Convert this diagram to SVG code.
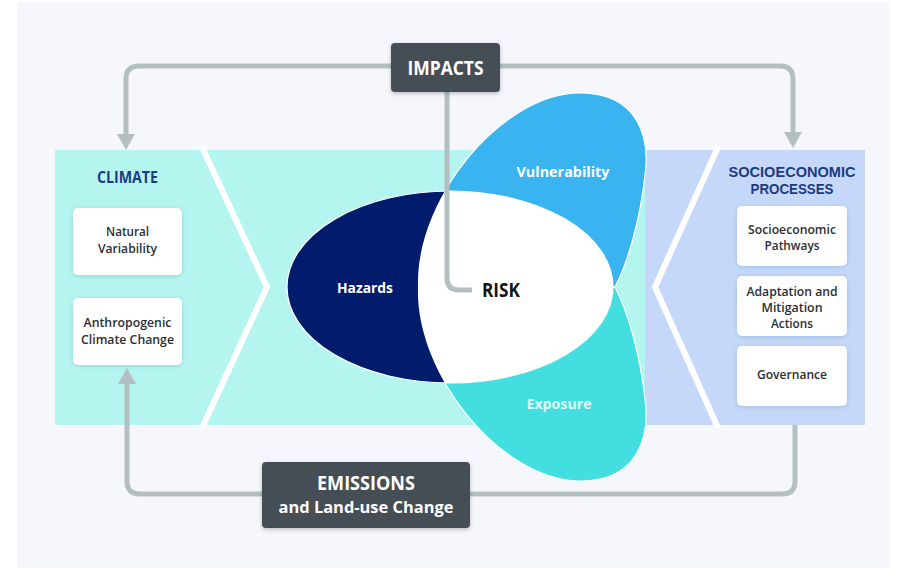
<svg xmlns="http://www.w3.org/2000/svg" width="897" height="570" viewBox="0 0 897 570">
  <defs>
    <style>
      .lbl { font-family: "Open Sans", "Noto Sans", "DejaVu Sans", sans-serif; text-anchor: middle; }
      .head { font-weight: 700; font-size: 16.5px; fill: #1b3a82; }
      .head2 { font-family: "Liberation Sans", Arial, sans-serif; font-weight: 700; font-size: 15.5px; fill: #1b3a82; }
      .box { fill: #ffffff; filter: url(#softShadow); }
      .boxtxt { font-weight: 600; font-size: 12.5px; fill: #2b2e31; }
      .dark { fill: #454d54; filter: url(#darkShadow); }
      .darktxt { font-weight: 700; fill: #ffffff; }
      .petaltxt { font-weight: 700; font-size: 15px; fill: #ffffff; }
      .conn { fill: none; stroke: #b3bfc1; stroke-width: 5; stroke-linejoin: round; }
      .chev { fill: none; stroke: #ffffff; stroke-width: 6; stroke-linejoin: miter; }
    </style>
    <filter id="softShadow" x="-20%" y="-20%" width="140%" height="150%">
      <feDropShadow dx="0" dy="1" stdDeviation="2.5" flood-color="#4f8fb3" flood-opacity="0.35"/>
    </filter>
    <filter id="darkShadow" x="-20%" y="-20%" width="140%" height="150%">
      <feDropShadow dx="0" dy="1.5" stdDeviation="2" flood-color="#000000" flood-opacity="0.25"/>
    </filter>
    <marker id="head" markerUnits="userSpaceOnUse" viewBox="0 0 16 18" markerWidth="16" markerHeight="18" refX="0" refY="9" orient="auto">
      <path d="M0,0 L16,9 L0,18 Z" fill="#b3bfc1"/>
    </marker>
    <!-- petal outlines, reused for the white overlap -->
    <path id="vulnPath" d="M418,287 C415,200 500,95 578,93 C640,92 650,140 645,175 C640,220 628,262 615,287 Z"/>
    <path id="expoPath" d="M418,287 C415,374 500,479 578,481 C640,482 650,434 645,399 C640,354 628,312 615,287 Z"/>
    <clipPath id="petalClip">
      <use href="#vulnPath"/>
      <use href="#expoPath"/>
    </clipPath>
  </defs>

  <!-- page -->
  <rect x="0" y="0" width="897" height="570" fill="#ffffff"/>
  <rect x="17" y="2" width="873" height="566" fill="#f6f7fc"/>

  <!-- bands -->
  <rect x="55" y="150" width="592" height="275" fill="#b5f5ef"/>
  <rect x="645" y="150" width="220" height="275" fill="#c6d8f9"/>
  <polyline class="chev" points="202,147 267,287 202,428"/>
  <polyline class="chev" points="718,147 655,287 718,428"/>

  <!-- risk petals -->
  <g id="vulnerability">
    <use href="#vulnPath" fill="#39b4f0" stroke="#ffffff" stroke-width="1.2"/>
    <text class="lbl petaltxt" x="563" y="177" textLength="93" lengthAdjust="spacingAndGlyphs">Vulnerability</text>
  </g>
  <g id="exposure">
    <use href="#expoPath" fill="#43dfe0" stroke="#ffffff" stroke-width="1.2"/>
    <text class="lbl petaltxt" x="559" y="409" textLength="65" lengthAdjust="spacingAndGlyphs" style="fill-opacity:0.85">Exposure</text>
  </g>
  <g id="hazards">
    <ellipse cx="450" cy="287" rx="163" ry="96" fill="#011c6c" stroke="#ffffff" stroke-width="1.2"/>
    <text class="lbl petaltxt" x="365" y="293" textLength="56" lengthAdjust="spacingAndGlyphs">Hazards</text>
  </g>
  <g id="risk">
    <ellipse cx="450" cy="287" rx="163" ry="96" fill="#ffffff" clip-path="url(#petalClip)"/>
    <text class="lbl" x="501" y="297" font-weight="700" font-size="19.5" fill="#141414" textLength="38" lengthAdjust="spacingAndGlyphs">RISK</text>
  </g>

  <!-- connectors -->
  <g id="connectors">
    <path class="conn" d="M391,66 H139 Q126,66 126,79 V134" marker-end="url(#head)"/>
    <path class="conn" d="M500,66 H780 Q793,66 793,79 V132" marker-end="url(#head)"/>
    <path class="conn" d="M795,425 V481 Q795,494 782,494 H140 Q127,494 127,481 V384" marker-end="url(#head)"/>
    <path class="conn" d="M447,92 V278 Q447,290 459,290 H472"/>
  </g>

  <!-- climate column -->
  <g id="climate">
    <text class="lbl head" x="127.5" y="183" textLength="61" lengthAdjust="spacingAndGlyphs">CLIMATE</text>
  </g>
  <g id="natural-variability">
    <rect class="box" x="73" y="208" width="109" height="67" rx="5"/>
    <text class="lbl boxtxt" x="127.5" y="236" textLength="43" lengthAdjust="spacingAndGlyphs">Natural</text>
    <text class="lbl boxtxt" x="127.5" y="253" textLength="59" lengthAdjust="spacingAndGlyphs">Variability</text>
  </g>
  <g id="anthropogenic">
    <rect class="box" x="73" y="298" width="109" height="67" rx="5"/>
    <text class="lbl boxtxt" x="127.5" y="327" textLength="88" lengthAdjust="spacingAndGlyphs">Anthropogenic</text>
    <text class="lbl boxtxt" x="127.5" y="344" textLength="93" lengthAdjust="spacingAndGlyphs">Climate Change</text>
  </g>

  <!-- socioeconomic column -->
  <g id="socioeconomic">
    <text class="lbl head2" x="792" y="177" textLength="127" lengthAdjust="spacingAndGlyphs">SOCIOECONOMIC</text>
    <text class="lbl head2" x="792" y="194" textLength="83" lengthAdjust="spacingAndGlyphs">PROCESSES</text>
  </g>
  <g id="pathways">
    <rect class="box" x="737" y="206" width="110" height="60" rx="5"/>
    <text class="lbl boxtxt" x="792" y="234" textLength="88" lengthAdjust="spacingAndGlyphs">Socioeconomic</text>
    <text class="lbl boxtxt" x="792" y="250" textLength="55" lengthAdjust="spacingAndGlyphs">Pathways</text>
  </g>
  <g id="adaptation">
    <rect class="box" x="737" y="276" width="110" height="60" rx="5"/>
    <text class="lbl boxtxt" x="792" y="296" textLength="91" lengthAdjust="spacingAndGlyphs">Adaptation and</text>
    <text class="lbl boxtxt" x="792" y="312" textLength="61" lengthAdjust="spacingAndGlyphs">Mitigation</text>
    <text class="lbl boxtxt" x="792" y="328" textLength="42" lengthAdjust="spacingAndGlyphs">Actions</text>
  </g>
  <g id="governance">
    <rect class="box" x="737" y="346" width="110" height="60" rx="5"/>
    <text class="lbl boxtxt" x="792" y="379" textLength="70" lengthAdjust="spacingAndGlyphs">Governance</text>
  </g>

  <!-- dark labels -->
  <g id="impacts">
    <rect class="dark" x="391" y="43" width="109" height="49" rx="4"/>
    <text class="lbl darktxt" x="445.5" y="75" font-size="19.5" textLength="76" lengthAdjust="spacingAndGlyphs">IMPACTS</text>
  </g>
  <g id="emissions">
    <rect class="dark" x="262" y="462" width="208" height="66" rx="4"/>
    <text class="lbl darktxt" x="366" y="490" font-size="19.5" textLength="98" lengthAdjust="spacingAndGlyphs">EMISSIONS</text>
    <text class="lbl darktxt" x="366" y="513" font-size="16.5" font-weight="600" textLength="175" lengthAdjust="spacingAndGlyphs">and Land-use Change</text>
  </g>
</svg>
